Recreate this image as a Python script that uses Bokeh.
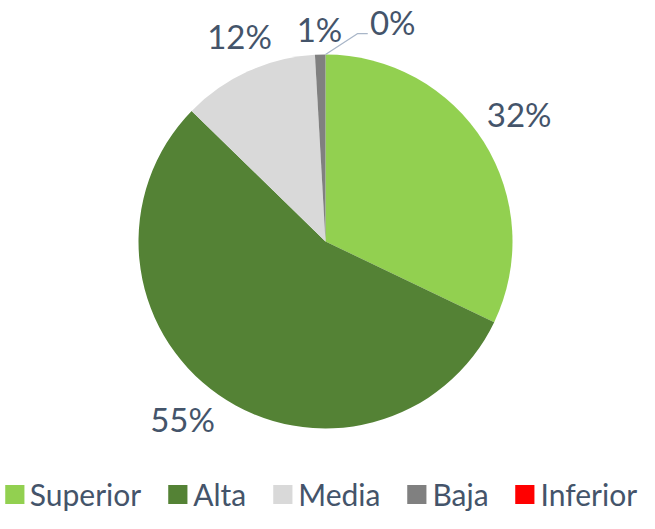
import numpy as np
from bokeh.plotting import figure
from bokeh.models import ColumnDataSource, Range1d, Legend, LegendItem
from bokeh.embed import file_html
from bokeh.resources import INLINE
from bokeh.core.properties import value

# ---- data ----
categories = ["Superior", "Alta", "Media", "Baja", "Inferior"]
values = [32.1, 55.2, 11.8, 0.9, 0.0]
colors = ["#92D050", "#548235", "#D9D9D9", "#808080", "#FF0000"]

# ---- style / layout ----
TEXT_COLOR = "#44546A"
FONT = "Lato"
W, H = 639, 513
IMG_H = 529
CX, CY, R = 325, IMG_H - 241, 187
label_radius = [232, 228, 223, 213, 230]
label_angle_shift_deg = [-1.2, 3.9, 1.8, 0, 17]

p = figure(width=W, height=H, x_range=Range1d(0, W), y_range=Range1d(IMG_H - H, IMG_H),
           output_backend="svg", toolbar_location=None, x_axis_type=None, y_axis_type=None,
           min_border=0, outline_line_color=None)
p.grid.visible = False

vals = np.array(values, dtype=float)
frac = vals / vals.sum()
cum = np.cumsum(frac)
prev = np.concatenate([[0.0], cum[:-1]])
start = np.pi / 2 - 2 * np.pi * prev
end = np.pi / 2 - 2 * np.pi * cum

renderers = []
for i, c in enumerate(categories):
    rad = R if vals[i] > 0 else 0
    src = ColumnDataSource(dict(x=[CX], y=[CY], s=[start[i]], e=[end[i]]))
    r = p.wedge(x="x", y="y", radius=rad, start_angle="s", end_angle="e", direction="clock",
                fill_color=colors[i], line_color=None, source=src)
    renderers.append(r)

# data labels
mid = 2 * np.pi * (prev + cum) / 2 + np.radians(label_angle_shift_deg)  # clockwise from top
lx = CX + np.array(label_radius) * np.sin(mid)
ly = CY + np.array(label_radius) * np.cos(mid)
texts = [f"{round(f * 100):d}%" for f in frac]
p.text(x=lx, y=ly, text=texts, text_align="center", text_baseline="middle",
       text_font=value(FONT), text_font_size="33px", text_color=TEXT_COLOR)

# leader line for the 0% label
i0 = 4
a0 = 2 * np.pi * (prev[i0] + cum[i0]) / 2
p.line(x=[CX + R * np.sin(a0), lx[i0] - 35, lx[i0] - 25],
       y=[CY + R * np.cos(a0), ly[i0] - 12, ly[i0] - 12],
       line_color="#A9B6C8", line_width=1.3)

items = [LegendItem(label=c, renderers=[r]) for c, r in zip(categories, renderers)]
legend = Legend(items=items, orientation="horizontal", location="bottom_center",
                glyph_width=24, glyph_height=24, label_standoff=4, spacing=24,
                padding=0, margin=1, border_line_color=None, background_fill_alpha=0,
                label_text_font=FONT, label_text_font_size="30px",
                label_text_color=TEXT_COLOR)
p.add_layout(legend)

open("out.html", "w").write(file_html(p, INLINE))
